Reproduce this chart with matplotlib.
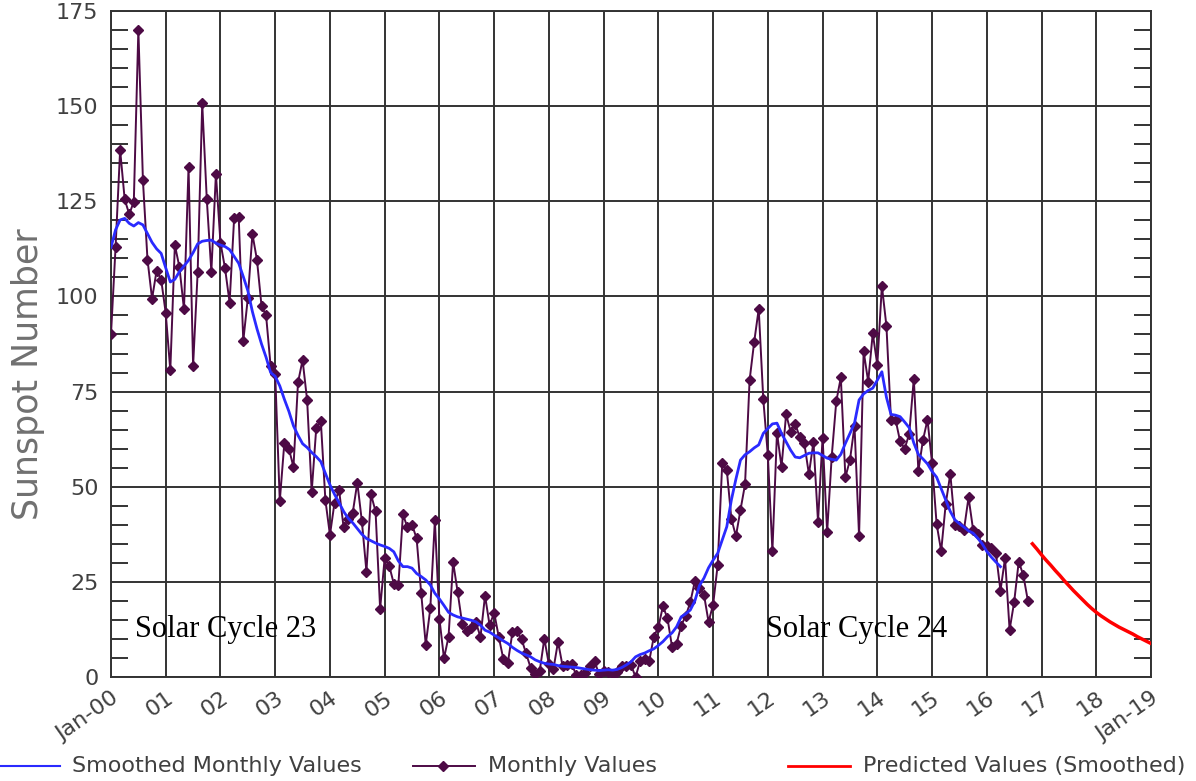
import numpy as np
import matplotlib
matplotlib.use("Agg")
import matplotlib.pyplot as plt
from matplotlib.lines import Line2D
from matplotlib.ticker import MultipleLocator

# monthly sunspot numbers, Jan of each year first
m2000 = [90.1, 112.9, 138.5, 125.5, 121.6, 124.9, 170.1, 130.5, 109.7, 99.4, 106.8, 104.4]
m2001 = [95.6, 80.6, 113.5, 107.7, 96.6, 134.0, 81.8, 106.4, 150.7, 125.5, 106.5, 132.2]
m2002 = [114.1, 107.4, 98.4, 120.7, 120.8, 88.3, 99.6, 116.4, 109.6, 97.5, 95.0, 81.6]
m2003 = [79.5, 46.2, 61.5, 60.0, 55.2, 77.4, 83.3, 72.7, 48.7, 65.5, 67.3, 46.5]
m2004 = [37.3, 45.8, 49.1, 39.3, 41.5, 43.2, 51.1, 40.9, 27.7, 48.0, 43.5, 17.9]
m2005 = [31.3, 29.2, 24.5, 24.2, 42.7, 39.3, 40.0, 36.4, 22.1, 8.5, 18.0, 41.2]
m2006 = [15.3, 4.9, 10.6, 30.2, 22.3, 13.9, 12.2, 12.9, 14.4, 10.5, 21.4, 13.6]
m2007 = [16.9, 10.6, 4.8, 3.7, 11.7, 12.0, 10.0, 6.2, 2.4, 0.9, 1.7, 10.1]
m2008 = [3.3, 2.1, 9.3, 2.9, 3.2, 3.4, 0.5, 0.5, 1.1, 2.9, 4.1, 0.8]
m2009 = [1.5, 1.4, 0.7, 1.2, 2.9, 2.9, 3.2, 0.0, 4.2, 4.6, 4.2, 10.6]
m2010 = [13.1, 18.6, 15.4, 7.9, 8.8, 13.5, 16.1, 19.6, 25.2, 23.5, 21.6, 14.5]
m2011 = [19.0, 29.4, 56.2, 54.4, 41.6, 37.0, 43.9, 50.6, 78.0, 88.0, 96.7, 73.0]
m2012 = [58.3, 33.1, 64.2, 55.2, 69.0, 64.5, 66.5, 63.0, 61.4, 53.3, 61.8, 40.8]
m2013 = [62.9, 38.1, 57.9, 72.4, 78.7, 52.5, 57.0, 66.0, 37.0, 85.6, 77.6, 90.3]
m2014 = [82.0, 102.8, 92.2, 67.6, 67.6, 61.9, 60.0, 63.9, 78.4, 54.2, 62.2, 67.6]
m2015 = [56.2, 40.2, 33.1, 45.5, 53.4, 40.0, 39.6, 38.7, 47.2, 38.7, 37.6, 34.7]
m2016 = [34.3, 33.9, 32.5, 22.7, 31.2, 12.4, 19.7, 30.3, 26.8, 20.1]

# smoothed monthly values, Jan 2000 .. Apr 2016
smoothed = [
    112.9, 117.5, 120.1, 120.5, 119.2, 118.5, 119.4, 118.8, 116.5, 114.2, 112.5, 111.3,
    107.5, 103.8, 104.5, 106.5, 108.0, 109.5, 111.5, 113.8, 114.5, 114.7, 114.8, 114.0,
    113.5, 113.1, 112.3, 110.5, 108.7, 105.2, 101.5, 96.0, 91.5, 87.5, 84.0, 80.0,
    79.0, 76.5, 73.0, 69.8, 66.0, 63.5, 61.3, 60.3, 59.0, 57.9, 56.6, 53.5,
    50.5, 48.0, 45.8, 43.5, 41.7, 40.5, 39.0, 37.5, 36.4, 35.8, 35.2, 34.7,
    34.3, 33.8, 32.9, 30.5, 29.0, 29.0, 28.6, 27.2, 26.4, 25.5, 24.2, 22.0,
    20.5, 18.8, 17.0, 16.3, 15.8, 15.5, 15.2, 14.9, 14.5, 13.6, 12.3, 11.8,
    11.0, 10.3, 9.5, 8.8, 7.8, 7.0, 6.3, 5.8, 5.3, 4.5, 4.0, 3.6,
    3.4, 3.3, 3.0, 2.8, 2.7, 2.6, 2.5, 2.3, 2.1, 1.9, 1.8, 1.7,
    1.8, 1.9, 1.8, 2.0, 2.5, 3.2, 4.0, 5.3, 5.9, 6.3, 6.9, 7.4,
    8.3, 9.3, 10.6, 11.6, 13.2, 15.8, 16.6, 17.6, 20.0, 24.0, 26.0, 28.7,
    30.7, 32.5, 36.0, 39.5, 46.5, 52.0, 57.0, 58.4, 59.2, 60.2, 61.0, 64.0,
    65.3, 66.5, 66.7, 64.0, 61.8, 59.6, 57.8, 57.6, 58.2, 58.8, 58.9, 58.9,
    58.2, 57.5, 57.2, 57.0, 58.5, 61.4, 64.0, 66.7, 72.8, 74.4, 75.3, 75.9,
    78.0, 80.2, 73.5, 69.0, 68.8, 68.4, 67.0, 65.5, 61.5, 58.5, 57.3, 56.0,
    54.0, 52.5, 49.5, 46.5, 43.5, 41.3, 40.3, 39.4, 38.4, 37.8, 36.5, 35.0,
    33.0, 31.5, 30.2, 29.0,
]

# predicted smoothed values, Nov 2016 .. Jan 2019
predicted = [35.0, 33.6, 32.1, 30.7, 29.4, 28.0, 26.7, 25.3, 24.0, 22.7, 21.5, 20.3,
             19.1, 18.0, 17.0, 16.1, 15.3, 14.5, 13.8, 13.1, 12.5, 11.9, 11.3, 10.6,
             10.0, 9.4, 8.8]
pred_start = 202  # months after Jan 2000

year_labels = ["Jan-00", "01", "02", "03", "04", "05", "06", "07", "08", "09",
               "10", "11", "12", "13", "14", "15", "16", "17", "18", "Jan-19"]

monthly = (m2000 + m2001 + m2002 + m2003 + m2004 + m2005 + m2006 + m2007 + m2008
           + m2009 + m2010 + m2011 + m2012 + m2013 + m2014 + m2015 + m2016)

grid_col = "#333333"
txt_col = "#404040"
purple = "#4d0a45"
blue = "#2a2aff"
red = "#ff0000"

fig = plt.figure(figsize=(11.96, 7.81), dpi=100)
ax = fig.add_axes([111 / 1196, 1 - 677 / 781, 1040 / 1196, 666 / 781])

x_month = np.arange(len(monthly))
ax.plot(x_month, monthly, color=purple, lw=1.4, marker="D", ms=5, zorder=3)
ax.plot(np.arange(len(smoothed)), smoothed, color=blue, lw=2.0, zorder=4)
ax.plot(pred_start + np.arange(len(predicted)), predicted, color=red, lw=2.5, zorder=4)

ax.set_xlim(0, 228)
ax.set_ylim(0, 175)
ax.set_xticks(np.arange(0, 229, 12))
ax.set_xticklabels(year_labels, rotation=35, ha="right", va="top",
                   rotation_mode="anchor", fontsize=16, color=txt_col)
ax.set_yticks(np.arange(0, 176, 25))
ax.yaxis.set_minor_locator(MultipleLocator(5))
ax.tick_params(axis="y", labelsize=16, labelcolor=txt_col, length=0, pad=9)
ax.tick_params(axis="x", length=0, pad=8)
ax.tick_params(axis="y", which="minor", direction="in", length=12, width=1.4,
               color=grid_col, left=True, right=True)
ax.grid(True, which="major", color=grid_col, lw=1.4)
for s in ax.spines.values():
    s.set_color(grid_col)
    s.set_linewidth(1.4)

ax.set_ylabel("Sunspot Number", fontsize=25, color="#707070")
ax.yaxis.set_label_coords(-0.063, 0.455)

ax.text(5.3, 10.5, "Solar Cycle 23", family="Liberation Serif", fontsize=22,
        color="black", va="baseline")
ax.text(143.6, 10.5, "Solar Cycle 24", family="Liberation Serif", fontsize=22,
        color="black", va="baseline")

# legend row along the bottom
ly = 1 - 766 / 781
fig.add_artist(Line2D([0 / 1196, 60 / 1196], [ly, ly], color=blue, lw=1.5,
                      transform=fig.transFigure))
fig.text(72 / 1196, ly, "Smoothed Monthly Values", fontsize=16, color=txt_col, va="center")
fig.add_artist(Line2D([413 / 1196, 475 / 1196], [ly, ly], color=purple, lw=1.4,
                      transform=fig.transFigure))
fig.add_artist(Line2D([443 / 1196], [ly], color=purple, marker="D", ms=5,
                      transform=fig.transFigure))
fig.text(488 / 1196, ly, "Monthly Values", fontsize=16, color=txt_col, va="center")
fig.add_artist(Line2D([788 / 1196, 850 / 1196], [ly, ly], color=red, lw=2,
                      transform=fig.transFigure))
fig.text(863 / 1196, ly, "Predicted Values (Smoothed)", fontsize=16, color=txt_col, va="center")

fig.savefig("out.png", dpi=100)
